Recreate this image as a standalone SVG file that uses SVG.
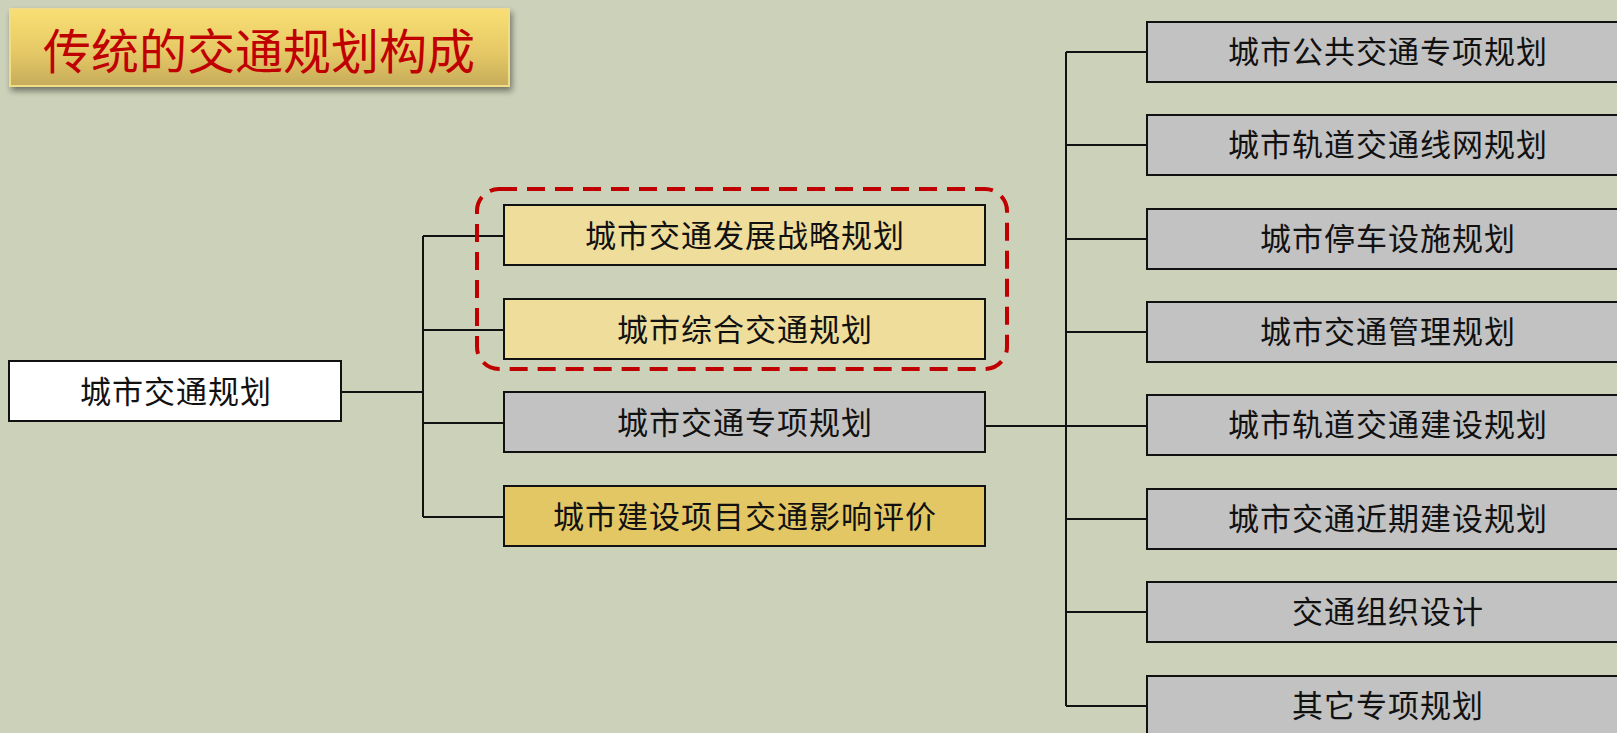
<svg xmlns="http://www.w3.org/2000/svg" width="1617" height="733" viewBox="0 0 1617 733">
<defs>
<linearGradient id="titleGrad" x1="0" y1="0" x2="0" y2="1">
<stop offset="0" stop-color="#f9df73"/>
<stop offset="0.55" stop-color="#e6c966"/>
<stop offset="1" stop-color="#c6ac5b"/>
</linearGradient>
<filter id="shadow" x="-5%" y="-20%" width="115%" height="150%">
<feGaussianBlur in="SourceAlpha" stdDeviation="3"/>
<feOffset dx="2" dy="4" result="b"/>
<feComponentTransfer><feFuncA type="linear" slope="0.45"/></feComponentTransfer>
<feMerge><feMergeNode/><feMergeNode in="SourceGraphic"/></feMerge>
</filter>
</defs>
<style>
.box{stroke:#111;stroke-width:2}
.white{fill:#ffffff}
.light{fill:#efdd9c}
.gold{fill:#e4c765}
.gray{fill:#c2c2c2}
.lbl{font-family:"Noto Sans CJK SC","Noto Sans CJK JP",sans-serif;font-size:31px;fill:#111;text-anchor:middle;dominant-baseline:central;letter-spacing:1px}
.conn{stroke:#111;stroke-width:2;fill:none}
</style>
<rect x="0" y="0" width="1617" height="733" fill="#ccd1b9"/>

<g id="title">
<rect x="10" y="9" width="499" height="77" fill="url(#titleGrad)" stroke="#f3dc86" stroke-width="2" filter="url(#shadow)"/>
<text x="259" y="48" font-family="Noto Sans CJK SC, Noto Sans CJK JP, sans-serif" font-size="48" fill="#c00000" text-anchor="middle" dominant-baseline="central">传统的交通规划构成</text>
</g>

<g id="connectors">
<polyline class="conn" points="342,392 423,392"/>
<line class="conn" x1="423" y1="236" x2="423" y2="517"/>
<line class="conn" x1="423" y1="236" x2="504" y2="236"/>
<line class="conn" x1="423" y1="330" x2="504" y2="330"/>
<line class="conn" x1="423" y1="423" x2="504" y2="423"/>
<line class="conn" x1="423" y1="517" x2="504" y2="517"/>
<line class="conn" x1="985" y1="426" x2="1147" y2="426"/>
<line class="conn" x1="1066" y1="52" x2="1066" y2="706"/>
<line class="conn" x1="1066" y1="52" x2="1147" y2="52"/>
<line class="conn" x1="1066" y1="145" x2="1147" y2="145"/>
<line class="conn" x1="1066" y1="239" x2="1147" y2="239"/>
<line class="conn" x1="1066" y1="332" x2="1147" y2="332"/>
<line class="conn" x1="1066" y1="519" x2="1147" y2="519"/>
<line class="conn" x1="1066" y1="612" x2="1147" y2="612"/>
<line class="conn" x1="1066" y1="706" x2="1147" y2="706"/>
</g>

<g id="group-highlight">
<rect x="477" y="189" width="530" height="180" rx="22" ry="22" fill="none" stroke="#c00000" stroke-width="4" stroke-dasharray="18 10"/>
</g>

<g id="n-root"><rect class="box white" x="9" y="361" width="332" height="60"/><text class="lbl" x="176" y="389">城市交通规划</text></g>

<g id="n-strategy"><rect class="box light" x="504" y="205" width="481" height="60"/><text class="lbl" x="745" y="233">城市交通发展战略规划</text></g>
<g id="n-comprehensive"><rect class="box light" x="504" y="299" width="481" height="60"/><text class="lbl" x="745" y="327">城市综合交通规划</text></g>
<g id="n-special"><rect class="box gray" x="504" y="392" width="481" height="60"/><text class="lbl" x="745" y="420">城市交通专项规划</text></g>
<g id="n-impact"><rect class="box gold" x="504" y="486" width="481" height="60"/><text class="lbl" x="745" y="514">城市建设项目交通影响评价</text></g>

<g id="n-r1"><rect class="box gray" x="1147" y="22" width="482" height="60"/><text class="lbl" x="1388" y="49">城市公共交通专项规划</text></g>
<g id="n-r2"><rect class="box gray" x="1147" y="115" width="482" height="60"/><text class="lbl" x="1388" y="142">城市轨道交通线网规划</text></g>
<g id="n-r3"><rect class="box gray" x="1147" y="209" width="482" height="60"/><text class="lbl" x="1388" y="236">城市停车设施规划</text></g>
<g id="n-r4"><rect class="box gray" x="1147" y="302" width="482" height="60"/><text class="lbl" x="1388" y="329">城市交通管理规划</text></g>
<g id="n-r5"><rect class="box gray" x="1147" y="395" width="482" height="60"/><text class="lbl" x="1388" y="422">城市轨道交通建设规划</text></g>
<g id="n-r6"><rect class="box gray" x="1147" y="489" width="482" height="60"/><text class="lbl" x="1388" y="516">城市交通近期建设规划</text></g>
<g id="n-r7"><rect class="box gray" x="1147" y="582" width="482" height="60"/><text class="lbl" x="1388" y="609">交通组织设计</text></g>
<g id="n-r8"><rect class="box gray" x="1147" y="676" width="482" height="60"/><text class="lbl" x="1388" y="703">其它专项规划</text></g>
</svg>
